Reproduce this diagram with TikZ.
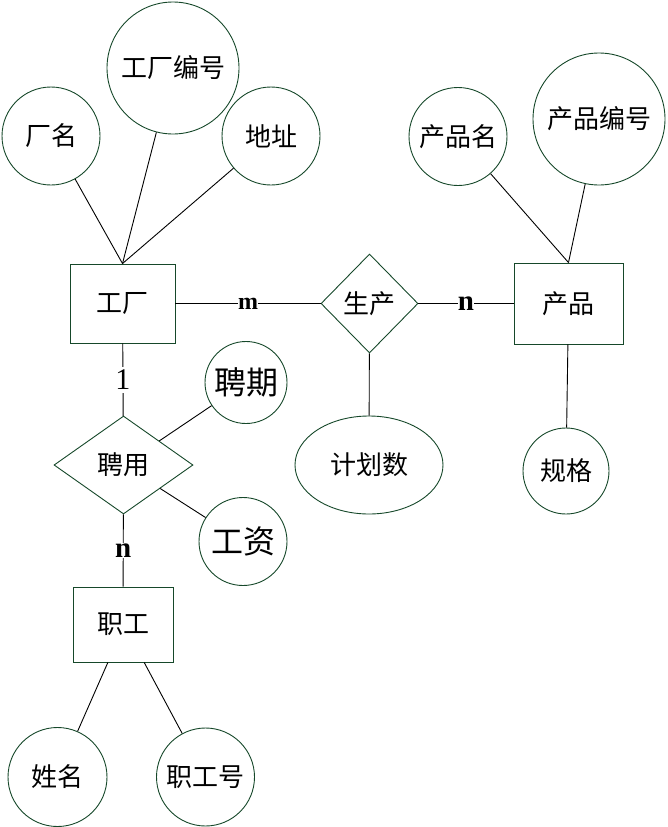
\documentclass[tikz,border=0pt]{standalone}
\usepackage{fontspec}
\newfontfamily\cjk{Noto Sans CJK SC}
\newfontfamily\cardfont{Liberation Serif}
\usetikzlibrary{shapes.geometric, calc}
\definecolor{ergreen}{RGB}{22,72,42}

\begin{document}
\begin{tikzpicture}[
    x=1pt, y=-1pt,
    line width=0.9pt,
    entity/.style={rectangle, draw=ergreen, inner sep=0pt, font=\cjk\fontsize{26}{30}\selectfont},
    relation/.style={diamond, draw=ergreen, inner sep=0pt, font=\cjk\fontsize{26}{30}\selectfont},
    attr/.style={circle, draw=ergreen, inner sep=0pt, font=\cjk\fontsize{26}{30}\selectfont},
    bigattr/.style={attr, font=\cjk\fontsize{32}{36}\selectfont},
    card/.style={fill=white, inner sep=1pt, font=\cardfont\bfseries\fontsize{29}{30}\selectfont}
]
\useasboundingbox (0,0) rectangle (667,827);
% entities
\node[entity, minimum width=105, minimum height=79] (factory) at (122.5,303.5) {工厂};
\node[entity, minimum width=109, minimum height=81] (product) at (568.5,303.5) {产品};
\node[entity, minimum width=100, minimum height=75] (staff) at (123,624.5) {职工};
% relationships
\node[relation, minimum width=97, minimum height=99] (produce) at (369.5,303.5) {生产};
\node[relation, minimum width=139, minimum height=98] (hire) at (123.5,465) {聘用};
% attributes
\node[attr, minimum size=98] (fname) at (51,136) {厂名};
\node[attr, minimum size=132] (fno) at (173,68) {工厂编号};
\node[attr, minimum size=98] (faddr) at (271,136) {地址};
\node[attr, minimum size=98] (pname) at (458,136.5) {产品名};
\node[attr, minimum size=132] (pno) at (599,119) {产品编号};
\node[attr, minimum size=86] (pspec) at (566,471) {规格};
\node[attr, ellipse, minimum width=148, minimum height=98] (plan) at (369,465) {计划数};
\node[bigattr, minimum size=82] (period) at (246,382.5) {聘期};
\node[bigattr, minimum size=88] (salary) at (243,541.5) {工资};
\node[attr, minimum size=99] (sname) at (57.5,777) {姓名};
\node[attr, minimum size=98] (sno) at (205.5,777) {职工号};

% connectors
\draw (fname) -- (factory.north);
\draw (fno) -- (factory.north);
\draw (faddr) -- (factory.north);
\draw (pname) -- (product.north);
\draw (pno) -- (product.north);
\draw (product) -- (pspec);
\draw (produce) -- (plan);
\draw (factory) -- node[card, inner sep=0pt, font=\cardfont\bfseries\fontsize{24}{26}\selectfont] {m} (produce);
\draw (produce) -- node[card, inner sep=0pt] {n} (product);
\draw (factory) -- node[card, inner sep=3pt, font=\cardfont\fontsize{30}{32}\selectfont] {1} (hire);
\draw (hire) -- node[card] {n} (staff);
\draw (hire) -- (period);
\draw (hire) -- (salary);
\draw (sname) -- ($(staff.south west)!0.35!(staff.south east)$);
\draw (sno) -- ($(staff.south west)!0.71!(staff.south east)$);
\end{tikzpicture}
\end{document}
